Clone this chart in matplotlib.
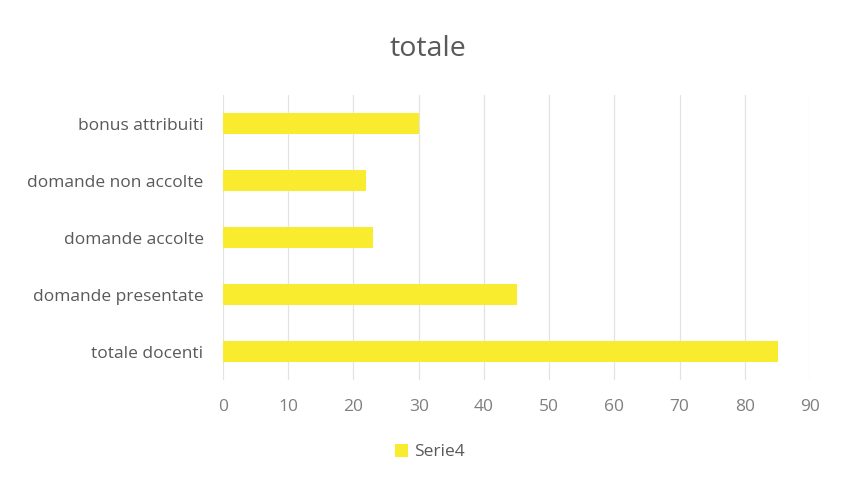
import matplotlib.pyplot as plt
from matplotlib.patches import Patch

categories = ['totale docenti', 'domande presentate', 'domande accolte',
              'domande non accolte', 'bonus attribuiti']
values = [85, 45, 23, 22, 30]
xticks = [0, 10, 20, 30, 40, 50, 60, 70, 80, 90]

plt.rcParams['font.family'] = ['Open Sans', 'DejaVu Sans']

fig = plt.figure(figsize=(8.43, 4.78), dpi=100)
ax = fig.add_axes([0.2645, 0.205, 0.6965, 0.596])

bar_color = '#F9EC2E'
ax.barh(range(len(categories)), values, height=0.36, color=bar_color, zorder=3)

ax.set_xlim(0, 90)
ax.set_ylim(-0.5, len(categories) - 0.5)
ax.set_xticks(xticks)
ax.set_yticks(range(len(categories)))
ax.set_yticklabels(categories)
ax.grid(axis='x', color='#e3e3e3', linewidth=0.9, zorder=0)
for s in ax.spines.values():
    s.set_visible(False)
ax.tick_params(axis='both', length=0, colors='#7f7f7f', labelsize=12.5)
ax.tick_params(axis='y', colors='#595959', pad=14)
ax.tick_params(axis='x', pad=14)

fig.text(0.508, 0.898, 'totale', ha='center', va='center', fontsize=20.5, color='#595959')

handles = [Patch(facecolor=bar_color, label='Serie4')]
fig.legend(handles=handles, loc='center', bbox_to_anchor=(0.51, 0.054), frameon=False,
           fontsize=12.5, labelcolor='#595959', handlelength=0.75, handleheight=0.75,
           handletextpad=0.3)

fig.savefig('out.png', dpi=100)
